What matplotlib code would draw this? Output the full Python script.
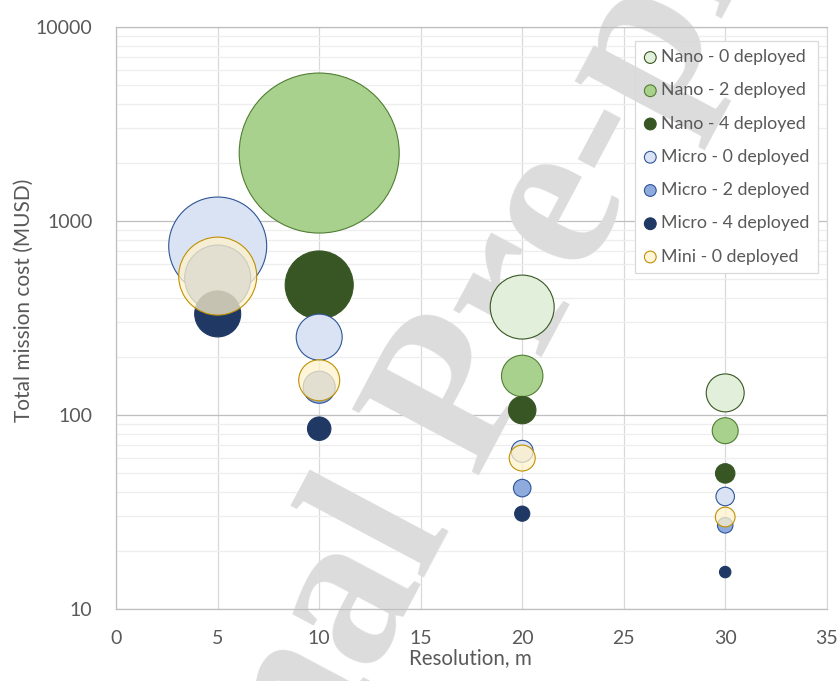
import matplotlib
matplotlib.use("Agg")
import matplotlib.pyplot as plt
from matplotlib.patches import Rectangle
import numpy as np

# ---------------- data ----------------
series_names = ["Nano - 0 deployed", "Nano - 2 deployed", "Nano - 4 deployed",
                "Micro - 0 deployed", "Micro - 2 deployed", "Micro - 4 deployed",
                "Mini - 0 deployed"]

nano0_res = [20, 30]
nano0_cost = [360, 130]
nano0_size = [358, 126]

nano2_res = [10, 20, 30]
nano2_cost = [2240, 159, 83]
nano2_size = [2240, 150, 59]

nano4_res = [10, 20, 30]
nano4_cost = [468, 106, 50]
nano4_size = [405, 66, 33]

micro0_res = [5, 10, 20, 30]
micro0_cost = [743, 252, 65, 38]
micro0_size = [840, 185, 42, 30]

micro2_res = [5, 10, 20, 30]
micro2_cost = [508, 139, 42, 27]
micro2_size = [381, 90, 27, 21]

micro4_res = [5, 10, 20, 30]
micro4_cost = [332, 85, 31, 15.5]
micro4_size = [185, 48, 20, 11.4]

mini0_res = [5, 10, 20, 30]
mini0_cost = [520, 151, 60, 29.8]
mini0_size = [532, 147, 59, 34]

x_ticks = [0, 5, 10, 15, 20, 25, 30, 35]
y_ticks = [10, 100, 1000, 10000]

# ---------------- style ----------------
face_colors = ["#e2efda", "#a9d18e", "#375623", "#dae3f3", "#8faadc", "#1f3864", (1.0, 0.949, 0.8, 0.75)]
edge_colors = ["#385723", "#507e32", "#375623", "#2f5597", "#2f5597", "#1f3864", "#bf9000"]

all_series = [
    (nano0_res, nano0_cost, nano0_size),
    (nano2_res, nano2_cost, nano2_size),
    (nano4_res, nano4_cost, nano4_size),
    (micro0_res, micro0_cost, micro0_size),
    (micro2_res, micro2_cost, micro2_size),
    (micro4_res, micro4_cost, micro4_size),
    (mini0_res, mini0_cost, mini0_size),
]

FONT = ["Lato", "DejaVu Sans"]
plt.rcParams['font.family'] = FONT
TXT = "#595959"

W, H = 840, 681
fig = plt.figure(figsize=(W / 100, H / 100), dpi=100)
pos = [116.2 / W, 1 - 609 / H, 710.5 / W, 582 / H]

# background axes: gridlines, legend backing, watermark
axbg = fig.add_axes(pos, zorder=0)
ax = fig.add_axes(pos, zorder=1)
for a in (axbg, ax):
    a.set_yscale("log")
    a.set_xlim(0, 35)
    a.set_ylim(10, 10000)
    a.set_xticks(x_ticks)
    a.set_yticks(y_ticks)
    a.yaxis.set_minor_locator(matplotlib.ticker.LogLocator(base=10, subs=np.arange(2, 10)))
    a.yaxis.set_minor_formatter(matplotlib.ticker.NullFormatter())
    a.tick_params(axis="both", which="both", length=0)

axbg.yaxis.grid(True, which="major", color="#bfbfbf", linewidth=0.9)
axbg.yaxis.grid(True, which="minor", color="#eeeeee", linewidth=0.9)
axbg.xaxis.grid(True, which="major", color="#d9d9d9", linewidth=0.9)
axbg.tick_params(labelleft=False, labelbottom=False)
for s in axbg.spines.values():
    s.set_visible(False)

ax.patch.set_visible(False)
ax.set_yticklabels([str(v) for v in y_ticks])
ax.tick_params(axis="y", pad=17, labelsize=14, labelcolor=TXT)
ax.tick_params(axis="x", pad=15, labelsize=14, labelcolor=TXT)
for side in ["left", "bottom", "top"]:
    ax.spines[side].set_color("#bfbfbf")
    ax.spines[side].set_linewidth(0.9)
ax.spines["right"].set_color("#d9d9d9")
ax.spines["right"].set_linewidth(0.9)

# bubble scaling: size value 2240 -> diameter 160 px
max_size = 2240.0
max_diam_pt = 160 * 0.72
scale = max_diam_pt ** 2 / max_size

for (xs, ys, ss), fc, ec, name in zip(all_series, face_colors, edge_colors, series_names):
    ax.scatter(xs, ys, s=np.array(ss) * scale, facecolors=[fc] * len(xs),
               edgecolors=ec, linewidths=0.8, zorder=3, label=name)

# axis titles
fig.text(470 / W, 1 - 664 / H, "Resolution, m", ha="center", va="baseline",
         fontsize=14.8, color=TXT, zorder=5)
fig.text(24 / W, 1 - 300 / H, "Total mission cost (MUSD)", ha="center", va="center",
         rotation=90, fontsize=15, color=TXT, zorder=5)

# legend (transparent face; white backing drawn under the watermark)
leg = ax.legend(loc="upper left", bbox_to_anchor=(635 / W, 1 - 41 / H),
                bbox_transform=fig.transFigure, borderaxespad=0,
                fontsize=12.8, labelspacing=0.97, handlelength=0.8,
                handletextpad=0.2, borderpad=0.46, frameon=True,
                fancybox=False, framealpha=1, edgecolor="#d9d9d9",
                labelcolor=TXT, scatterpoints=1)
leg.get_frame().set_linewidth(0.9)
leg.get_frame().set_facecolor("none")
for h in leg.legend_handles:
    h.set_sizes([72])

fig.canvas.draw()
bb = leg.get_window_extent(fig.canvas.get_renderer()).transformed(fig.transFigure.inverted())
axbg.add_patch(Rectangle((bb.x0, bb.y0), bb.width, bb.height, transform=fig.transFigure,
                         facecolor="white", edgecolor="none", zorder=3, clip_on=False))

# watermark
axbg.text(458 / W, 1 - 402 / H, "Journal Pre-proof", transform=fig.transFigure,
          ha="center", va="center", rotation=62, rotation_mode="anchor",
          fontsize=157, fontfamily="Liberation Serif", fontweight="bold",
          color="#dcdcdc", zorder=4, clip_on=False)

fig.savefig("out.png", dpi=100)
